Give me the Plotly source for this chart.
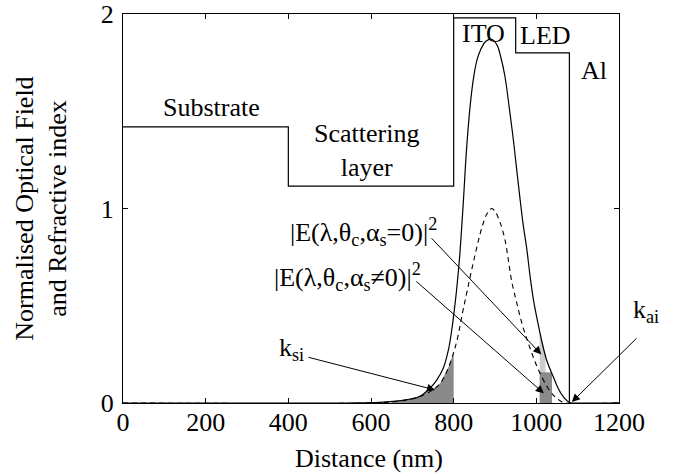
import numpy as np
import plotly.graph_objects as go

# ---------------- data ----------------
# Refractive-index step profile (layer boundaries in nm, index value)
layer_x = [0, 400, 800, 950, 1080, 1200]
layer_n = [1.42, 1.115, 1.98, 1.80, 0.0, 0.0]

# Normalised optical field, scattering layer present (solid)
x_solid = [0, 550, 620, 660, 700, 718, 743, 759, 775, 787, 795, 800, 807, 814, 823, 831,
           840, 848, 856, 866, 878, 892, 905, 915, 924, 935, 944, 952, 960, 968, 977,
           985, 993, 1003, 1013, 1025, 1041, 1053, 1065, 1074, 1082, 1095, 1120, 1150,
           1175, 1190, 1200]
e_solid = [0, 0, 0.003, 0.01, 0.022, 0.033, 0.077, 0.118, 0.18, 0.27, 0.37, 0.45, 0.58,
           0.74, 1.02, 1.30, 1.53, 1.67, 1.76, 1.82, 1.86, 1.87, 1.84, 1.77, 1.68, 1.51,
           1.36, 1.21, 1.06, 0.92, 0.79, 0.65, 0.53, 0.42, 0.32, 0.22, 0.135, 0.075,
           0.033, 0.012, 0.0, -0.008, -0.012, -0.01, -0.004, 0.0, 0.0]

# Normalised optical field, no scattering (dashed)
x_dash = [0, 600, 650, 700, 740, 767, 785, 800, 809, 822, 831, 840, 856, 868, 880, 892,
          900, 912, 924, 932, 940, 952, 965, 977, 989, 1001, 1013, 1027, 1041, 1052,
          1061, 1072, 1200]
e_dash = [0, 0, 0.006, 0.022, 0.055, 0.10, 0.17, 0.26, 0.33, 0.47, 0.56, 0.65, 0.80,
          0.90, 0.97, 1.0, 0.985, 0.93, 0.84, 0.74, 0.63, 0.52, 0.41, 0.33, 0.257,
          0.19, 0.135, 0.08, 0.041, 0.02, 0.007, 0.0, 0.0]

# Shaded regions (nm)
shade_si = [650, 800]          # evanescent tail into scattering layer
shade_ai = [1008, 1038]        # tail towards the Al electrode
shade_ai_light = [1008, 1022]
shade_ai_level = 0.16

tick_x = [0, 200, 400, 600, 800, 1000, 1200]
tick_y = [0, 1, 2]

FONT = "Liberation Serif"
DARK = "#8a8a8a"
LIGHT = "#cdcdcd"

fig = go.Figure()

# --- fills (built from the curve arrays) ---
xs = np.linspace(shade_si[0], shade_si[1], 60)
ys = np.interp(xs, x_dash, e_dash)
fig.add_trace(go.Scatter(x=np.r_[xs, xs[::-1]], y=np.r_[ys, np.zeros_like(ys)],
                         fill="toself", fillcolor=DARK, line=dict(width=0),
                         mode="lines", hoverinfo="skip", showlegend=False))

xr = np.linspace(shade_ai[0], shade_ai[1], 30)
yr = np.minimum(np.interp(xr, x_solid, e_solid), shade_ai_level)
fig.add_trace(go.Scatter(x=np.r_[xr, xr[::-1]], y=np.r_[yr, np.zeros_like(yr)],
                         fill="toself", fillcolor=DARK, line=dict(width=0),
                         mode="lines", hoverinfo="skip", showlegend=False))

xl = np.linspace(shade_ai_light[0], shade_ai_light[1], 20)
yl = np.interp(xl, x_solid, e_solid)
fig.add_trace(go.Scatter(x=np.r_[xl, xl[::-1]],
                         y=np.r_[yl, np.full_like(yl, shade_ai_level)],
                         fill="toself", fillcolor=LIGHT, line=dict(width=0),
                         mode="lines", hoverinfo="skip", showlegend=False))

# --- lines ---
fig.add_trace(go.Scatter(x=layer_x, y=layer_n, mode="lines", line_shape="hv",
                         line=dict(color="black", width=1.2), showlegend=False))
fig.add_trace(go.Scatter(x=x_dash, y=e_dash, mode="lines", line_shape="spline",
                         line=dict(color="black", width=1.1, dash="5px,4px"),
                         showlegend=False))
fig.add_trace(go.Scatter(x=x_solid, y=e_solid, mode="lines", line_shape="spline",
                         line=dict(color="black", width=1.2), showlegend=False))

TXT = dict(family=FONT, size=26, color="black")

# --- text labels ---
def label(x, y, text, xref="x", yref="y", **kw):
    fig.add_annotation(x=x, y=y, xref=xref, yref=yref, text=text, showarrow=False,
                       font=TXT, **kw)

label(215, 1.52, "Substrate")
label(589, 1.30, "Scattering<br>layer")
label(872, 1.90, "ITO")
label(1021, 1.89, "LED")
label(1140, 1.71, "Al")
label(581, 0.88, "|E(λ,θ<sub>c</sub>,α<sub>s</sub>=0)|<sup>2</sup>")
label(542, 0.65, "|E(λ,θ<sub>c</sub>,α<sub>s</sub>≠0)|<sup>2</sup>")
label(407, 0.28, "k<sub>si</sub>")
label(1.085, 0.19, "k<sub>ai</sub>", xref="paper", yref="paper")

# --- arrows (tip x,y ; tail ax,ay) ---
def arrow(x, y, ax, ay):
    fig.add_annotation(x=x, y=y, ax=ax, ay=ay, xref="x", yref="y", axref="x", ayref="y",
                       text="", showarrow=True, arrowhead=2, arrowsize=1.6,
                       arrowwidth=1, arrowcolor="black", standoff=0, startstandoff=0)

arrow(1012, 0.25, 743, 0.855)
arrow(1018, 0.05, 706, 0.632)
arrow(755, 0.067, 445, 0.237)
arrow(1086, 0.005, 1246, 0.34)

# axis titles
fig.add_annotation(xref="paper", yref="paper", x=-0.165, y=0.5,
                   text="Normalised Optical Field<br>and Refractive index",
                   textangle=-90, showarrow=False, xanchor="center", yanchor="middle",
                   font=TXT)
fig.add_annotation(xref="paper", yref="paper", x=0.495, y=-0.1414,
                   text="Distance (nm)", showarrow=False,
                   xanchor="center", yanchor="middle", font=TXT)

axis_common = dict(showgrid=False, zeroline=False, showline=True, linecolor="black",
                   linewidth=1, ticks="inside", ticklen=5, tickcolor="black",
                   mirror="ticks", automargin=False, tickfont=TXT)

fig.update_layout(
    template="none",
    width=694, height=476,
    margin=dict(l=123, r=75, t=14, b=73),
    paper_bgcolor="white", plot_bgcolor="white",
    font=TXT,
    xaxis=dict(range=[0, 1200], tickvals=tick_x, ticklabelstandoff=-4, **axis_common),
    yaxis=dict(range=[0, 2], tickvals=tick_y, ticklabelstandoff=3, **axis_common),
    showlegend=False,
)

fig.write_html("out.html", config={"displayModeBar": False},
               post_script="document.body.style.margin='0';document.body.style.overflow='hidden';")
